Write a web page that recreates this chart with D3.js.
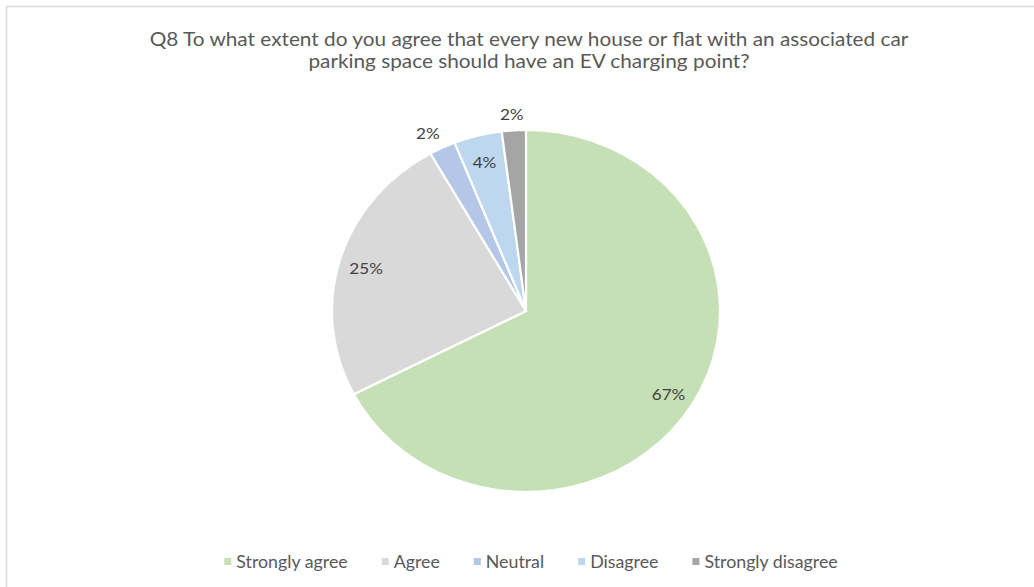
<!DOCTYPE html>
<html>
<head>
<meta charset="UTF-8" />
<title>Q8 EV charging point</title>
<script src="https://cdn.jsdelivr.net/npm/d3@7"></script>
<style>
  body { margin: 0; background: #fff; }
  svg { display: block; font-family: Lato, "Open Sans", sans-serif; }
</style>
</head>
<body>
<svg width="1034" height="587"></svg>
<script>
  // data
  const categories = ["Strongly agree", "Agree", "Neutral", "Disagree", "Strongly disagree"];
  const values = [67.4, 24.4, 2.2, 4.0, 2.0];
  const labels = ["67%", "25%", "2%", "4%", "2%"];
  const colors = ["#C5E0B4", "#D9D9D9", "#B4C7E7", "#BDD7EE", "#A5A5A5"];
  const titleLines = [
    "Q8 To what extent do you agree that every new house or flat with an associated car",
    "parking space should have an EV charging point?"
  ];

  const svg = d3.select("svg");

  // the original picture is a bit stretched sideways, so is everything here
  const sx = 194 / 181;

  // chart area border (runs off the right and bottom)
  svg.append("rect")
    .attr("x", 6.5).attr("y", 6.5)
    .attr("width", 1100).attr("height", 700)
    .attr("fill", "#fff")
    .attr("stroke", "#D9D9D9")
    .attr("stroke-width", 1.5);

  // title
  svg.append("g")
    .selectAll("text")
    .data(titleLines)
    .join("text")
    .attr("transform", (d, i) => `translate(529,${46 + i * 22}) scale(${sx},1)`)
    .attr("text-anchor", "middle")
    .attr("fill", "#595959")
    .style("font-size", "19.4px")
    .text(d => d);

  // pie
  const cx = 526, cy = 311, ry = 181, rx = ry * sx;
  const pie = d3.pie().sort(null).value(d => d)(values);
  const arc = d3.arc().innerRadius(0).outerRadius(ry);

  const pieG = svg.append("g")
    .attr("transform", `translate(${cx},${cy}) scale(${sx},1)`);

  pieG.selectAll("path")
    .data(pie)
    .join("path")
    .attr("d", arc)
    .attr("fill", (d, i) => colors[i])
    .attr("stroke", "#fff")
    .attr("stroke-width", 2.2)
    .attr("vector-effect", "non-scaling-stroke");

  // data labels: inside for big slices, just outside for the small ones
  const labelPos = d => {
    const a = (d.startAngle + d.endAngle) / 2;
    const k = d.value < 3 ? 1.1 : 0.86;
    const px = cx + Math.sin(a) * rx * k;
    // Excel nudges the outside labels away from the centre line
    const nudge = d.value < 3 ? Math.sin(a) * 14 : 0;
    return [px + nudge, cy - Math.cos(a) * ry * k + 2];
  };

  svg.append("g")
    .selectAll("text")
    .data(pie)
    .join("text")
    .attr("transform", d => `translate(${labelPos(d)[0]},${labelPos(d)[1]}) scale(${sx},1)`)
    .attr("dy", "0.35em")
    .attr("text-anchor", "middle")
    .attr("fill", "#404040")
    .style("font-size", "16px")
    .text((d, i) => labels[i]);

  // legend
  const legend = svg.append("g").attr("transform", "translate(0,562)");
  const items = legend.selectAll("g")
    .data(categories)
    .join("g");

  items.append("rect")
    .attr("y", -4).attr("width", 7).attr("height", 7)
    .attr("fill", (d, i) => colors[i]);

  items.append("text")
    .attr("transform", `translate(12,0) scale(${sx},1)`)
    .attr("dy", "0.35em")
    .attr("fill", "#595959")
    .style("font-size", "16.6px")
    .text(d => d);

  // lay the legend out centred
  const gap = 34;
  let widths = [];
  items.each(function () {
    widths.push(12 + d3.select(this).select("text").node().getComputedTextLength() * sx);
  });
  const total = d3.sum(widths) + gap * (widths.length - 1);
  let x = 531 - total / 2;
  items.attr("transform", (d, i) => {
    const t = `translate(${x},0)`;
    x += widths[i] + gap;
    return t;
  });
</script>
</body>
</html>
